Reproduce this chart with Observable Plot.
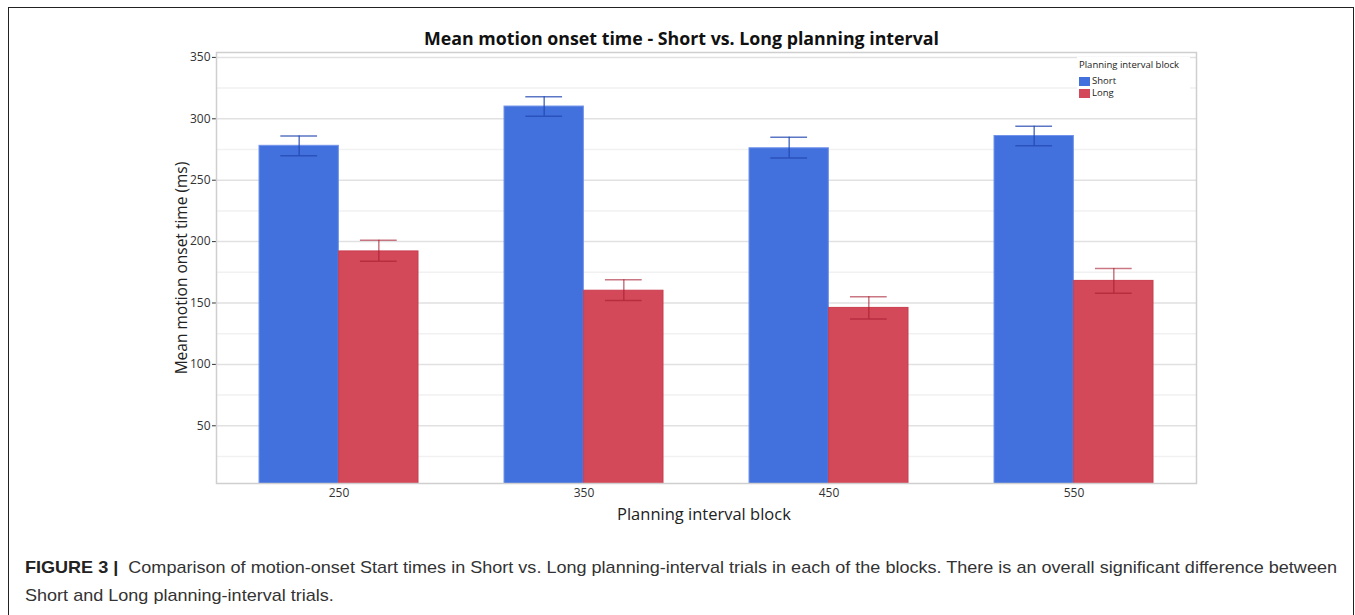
<!DOCTYPE html>
<html>
<head>
<meta charset="utf-8">
<script src="https://cdn.jsdelivr.net/npm/d3@7"></script>
<script src="https://cdn.jsdelivr.net/npm/@observablehq/plot@0.6"></script>
<style>
  html, body { margin: 0; padding: 0; background: #fff; }
  body { width: 1355px; height: 615px; position: relative; overflow: hidden; }
  #box { position: absolute; left: 8px; top: 7px; width: 1346px; height: 700px; border: 1.5px solid #222; box-sizing: border-box; }
  #chart { position: absolute; left: 0; top: 0; }
  .t { position: absolute; font-family: "Open Sans", sans-serif; color: #111; white-space: nowrap; }
  #title { left: 0; width: 1355px; text-align: center; top: 26px; font-size: 17.8px; font-weight: 700; padding-left: 4px; }
  #ytitle { left: 181px; top: 268px; font-size: 15.5px; transform: translate(-50%, -50%) rotate(-90deg); color: #222; }
  #xtitle { left: 617px; top: 502px; font-size: 16.5px; color: #222; }
  #legend { position: absolute; left: 1077px; top: 57px; width: 113px; height: 46px; background: #fff; font-family: "Open Sans", sans-serif; color: #222; }
  #legend .lt { position: absolute; left: 2px; top: 1px; font-size: 9.5px; white-space: nowrap; }
  #legend .sw { position: absolute; left: 2px; width: 11px; height: 9px; }
  #legend .ll { position: absolute; left: 15px; font-size: 9.5px; }
  .cap { position: absolute; left: 25px; font-family: "Liberation Sans", Arial, sans-serif; font-size: 17px; color: #333; white-space: nowrap; transform-origin: 0 0; }
  .cap b { color: #222; }
</style>
</head>
<body>
<div id="box"></div>
<div id="chart"></div>
<div class="t" id="title">Mean motion onset time - Short vs. Long planning interval</div>
<div class="t" id="ytitle">Mean motion onset time (ms)</div>
<div class="t" id="xtitle">Planning interval block</div>
<div id="legend"></div>
<div class="cap" id="cap1" style="top:558px"><b>FIGURE 3&nbsp;|</b>&nbsp;&nbsp;Comparison of motion-onset Start times in Short vs. Long planning-interval trials in each of the blocks. There is an overall significant difference between</div>
<div class="cap" id="cap2" style="top:586px">Short and Long planning-interval trials.</div>
<script>
// ---- data ----
const blocks = ["250", "350", "450", "550"];
const seriesNames = ["Short", "Long"];
const shortMean = [278, 310, 276, 286];
const shortLo   = [270, 302, 268, 278];
const shortHi   = [286, 318, 285, 294];
const longMean  = [192, 160, 146, 168];
const longLo    = [184, 152, 137, 158];
const longHi    = [201, 169, 155, 178];
const majorTicks = [50, 100, 150, 200, 250, 300, 350];
const minorTicks = [25, 75, 125, 175, 225, 275, 325];
const colors = ["#4271dd", "#d44959"];

// ---- layout ----
const W = 1355, H = 530, mL = 216, mR = 159, mT = 52, mB = 47;
const pIn = 0.35, pOut = 0.175;
const step = (W - mL - mR) / (blocks.length - pIn + 2 * pOut);
const bw = step * (1 - pIn);
const capHalf = 18.5;

const shortRows = blocks.map((b, i) => ({block: b, series: "Short", mean: shortMean[i], lo: shortLo[i], hi: shortHi[i]}));
const longRows = blocks.map((b, i) => ({block: b, series: "Long", mean: longMean[i], lo: longLo[i], hi: longHi[i]}));

const errStyle = [
  {stroke: "#2348b0", strokeOpacity: 0.75},
  {stroke: "#a51c2e", strokeOpacity: 0.6}
];

function errMarks(rows, k) {
  const center = k === 0 ? bw / 4 : 3 * bw / 4;
  const st = errStyle[k];
  const capOpts = (field) => ({x: "block", y: field, insetLeft: center - capHalf, insetRight: bw - center - capHalf, strokeWidth: 1.5, ...st});
  return [
    Plot.ruleX(rows, {x: "block", y1: "lo", y2: "hi", dx: center - bw / 2, strokeWidth: 1.5, ...st}),
    Plot.tickY(rows, capOpts("hi")),
    Plot.tickY(rows, capOpts("lo"))
  ];
}

const chart = Plot.plot({
  width: W, height: H,
  marginLeft: mL, marginRight: mR, marginTop: mT, marginBottom: mB,
  style: {fontFamily: "Open Sans, sans-serif", fontSize: "12px", color: "#333", background: "transparent"},
  x: {domain: blocks, type: "band", paddingInner: pIn, paddingOuter: pOut, align: 0.5, tickSize: 0, tickPadding: 5, label: null},
  y: {domain: [3, 354], ticks: majorTicks, tickSize: 4, tickPadding: 2, label: null},
  marks: [
    Plot.ruleY(minorTicks, {stroke: "#f1f1f1", strokeWidth: 1.5}),
    Plot.ruleY(majorTicks, {stroke: "#e1e1e1", strokeWidth: 1.5}),
    Plot.barY(shortRows, {x: "block", y: "mean", fill: colors[0], stroke: "#7393ea", strokeWidth: 1, insetRight: bw / 2, clip: true}),
    Plot.barY(longRows, {x: "block", y: "mean", fill: colors[1], stroke: "#c93e4f", strokeWidth: 1, insetLeft: bw / 2, clip: true}),
    ...errMarks(shortRows, 0),
    ...errMarks(longRows, 1),
    Plot.frame({stroke: "#cfcfcf", strokeWidth: 1.5})
  ]
});
document.getElementById("chart").appendChild(chart);

// ---- legend ----
const lg = document.getElementById("legend");
lg.innerHTML = `<div class="lt">Planning interval block</div>` +
  seriesNames.map((s, i) => `<div class="sw" style="top:${20 + i * 12}px;background:${colors[i]}"></div><div class="ll" style="top:${17 + i * 12}px">${s}</div>`).join("");

// ---- fit caption line 1 ----
const c1 = document.getElementById("cap1");
const w1 = c1.getBoundingClientRect().width;
const sx = 1312 / w1;
c1.style.transform = `scaleX(${sx})`;
document.getElementById("cap2").style.transform = `scaleX(${sx})`;
</script>
</body>
</html>
